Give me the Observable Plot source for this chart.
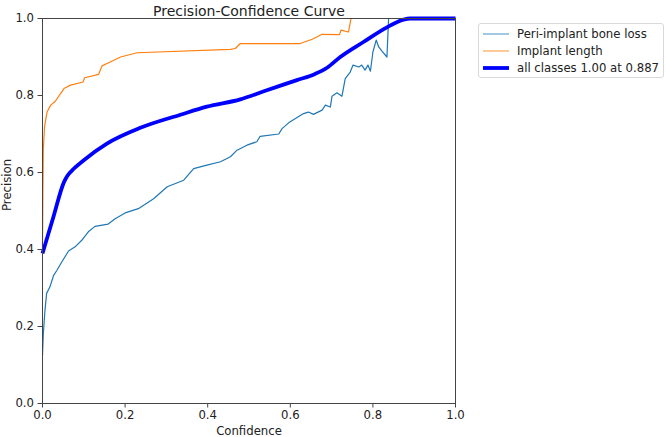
<!DOCTYPE html>
<html>
<head>
<meta charset="utf-8">
<script src="https://cdn.jsdelivr.net/npm/d3@7"></script>
<script src="https://cdn.jsdelivr.net/npm/@observablehq/plot@0.6"></script>
<style>
  html, body { margin: 0; padding: 0; background: #fff; }
  #wrap { position: relative; width: 666px; height: 437px; font-family: "DejaVu Sans", sans-serif; }
  #legend {
    position: absolute; left: 478px; top: 23px; width: 186px; height: 55px;
    border: 1px solid #d9d9d9; border-radius: 3px; background: #fff;
    font-size: 11.7px; color: #222; box-sizing: border-box;
  }
  .row { position: absolute; left: 0; height: 14px; display: flex; align-items: center; white-space: nowrap; }
  .row svg { margin-left: 4px; margin-right: 8px; }
</style>
</head>
<body>
<div id="wrap"></div>
<script>
// Precision vs. confidence threshold, per class and across all classes
const boneLossConf = [0, 0.002, 0.006, 0.01, 0.018, 0.027, 0.035, 0.047, 0.063, 0.079, 0.095, 0.111, 0.127, 0.159, 0.176, 0.200, 0.232, 0.269, 0.302, 0.342, 0.366, 0.398, 0.431, 0.455, 0.471, 0.495, 0.519, 0.527, 0.572, 0.580, 0.596, 0.632, 0.644, 0.656, 0.677, 0.685, 0.697, 0.701, 0.713, 0.725, 0.733, 0.745, 0.752, 0.766, 0.773, 0.781, 0.788, 0.794, 0.800, 0.808, 0.814, 0.822, 0.834, 0.838, 1.0];
const boneLossPrec = [0.125, 0.182, 0.242, 0.286, 0.303, 0.333, 0.346, 0.368, 0.396, 0.407, 0.424, 0.446, 0.460, 0.466, 0.480, 0.495, 0.506, 0.532, 0.563, 0.580, 0.610, 0.619, 0.628, 0.641, 0.658, 0.671, 0.680, 0.694, 0.700, 0.714, 0.729, 0.753, 0.757, 0.751, 0.762, 0.775, 0.770, 0.798, 0.807, 0.798, 0.844, 0.861, 0.879, 0.874, 0.879, 0.866, 0.879, 0.863, 0.913, 0.944, 0.926, 0.915, 0.900, 1.0, 1.0];

const lengthConf = [0, 0.001, 0.002, 0.005, 0.011, 0.02, 0.031, 0.052, 0.068, 0.098, 0.102, 0.136, 0.144, 0.164, 0.189, 0.229, 0.455, 0.467, 0.479, 0.624, 0.653, 0.677, 0.719, 0.723, 0.741, 0.747, 1.0];
const lengthPrec = [0.40, 0.55, 0.66, 0.72, 0.757, 0.775, 0.785, 0.818, 0.827, 0.835, 0.846, 0.855, 0.877, 0.887, 0.900, 0.911, 0.920, 0.922, 0.935, 0.935, 0.946, 0.959, 0.958, 0.970, 0.965, 1.0, 1.0];

const allConf = [0, 0.026, 0.052, 0.060, 0.075, 0.10, 0.156, 0.237, 0.334, 0.398, 0.479, 0.536, 0.616, 0.660, 0.689, 0.721, 0.777, 0.834, 0.874, 0.890, 1.0];
const allPrec = [0.39, 0.483, 0.575, 0.591, 0.609, 0.632, 0.675, 0.716, 0.750, 0.771, 0.790, 0.811, 0.840, 0.856, 0.872, 0.900, 0.939, 0.977, 0.997, 1.0, 1.0];

const tickValues = [0, 0.2, 0.4, 0.6, 0.8, 1.0];

const series = [
  {name: "Peri-implant bone loss", conf: boneLossConf, prec: boneLossPrec, color: "#1f77b4", width: 1.2, curve: "linear"},
  {name: "Implant length", conf: lengthConf, prec: lengthPrec, color: "#ff7f0e", width: 1.2, curve: "linear"},
  {name: "all classes 1.00 at 0.887", conf: allConf, prec: allPrec, color: "#0000ff", width: 3.8, curve: "monotone-x"}
];

const toRows = s => s.conf.map((c, i) => ({conf: c, prec: s.prec[i]}));
const fmt = d3.format(".1f");

const chart = Plot.plot({
  width: 666,
  height: 437,
  marginLeft: 42,
  marginRight: 211,
  marginTop: 18,
  marginBottom: 34,
  style: {fontFamily: "DejaVu Sans, sans-serif", fontSize: "11.7px", color: "#222", background: "#fff"},
  x: {domain: [0, 1]},
  y: {domain: [0, 1]},
  marks: [
    ...series.map(s => Plot.line(toRows(s), {x: "conf", y: "prec", stroke: s.color, strokeWidth: s.width, curve: s.curve, strokeLinejoin: "round", strokeLinecap: "butt"})),
    Plot.frame({stroke: "#444", strokeWidth: 1}),
    Plot.axisX({ticks: tickValues, tickFormat: fmt, tickSize: 4.5, tickPadding: 3, label: null, stroke: "#444", fontSize: 11.7}),
    Plot.axisY({ticks: tickValues, tickFormat: fmt, tickSize: 4.5, tickPadding: 4, label: null, stroke: "#444", fontSize: 11.7}),
    Plot.text(["Precision-Confidence Curve"], {frameAnchor: "top", dy: -12, fontSize: 14, fill: "#222"}),
    Plot.text(["Confidence"], {frameAnchor: "bottom", dy: 31, fontSize: 11.7, fill: "#222"}),
    Plot.text(["Precision"], {frameAnchor: "left", dx: -35, rotate: -90, fontSize: 11.7, fill: "#222"})
  ]
});

const wrap = document.getElementById("wrap");
wrap.appendChild(chart);

// Legend with line swatches for each series
const legend = document.createElement("div");
legend.id = "legend";
series.forEach((s, i) => {
  const row = document.createElement("div");
  row.className = "row";
  row.style.top = (3 + i * 17) + "px";
  row.innerHTML = `<svg width="26" height="8"><line x1="0" x2="26" y1="4" y2="4" stroke="${s.color}" stroke-width="${s.width}" stroke-opacity="${s.width > 2 ? 1 : 0.7}"/></svg><span>${s.name}</span>`;
  legend.appendChild(row);
});
wrap.appendChild(legend);
</script>
</body>
</html>
